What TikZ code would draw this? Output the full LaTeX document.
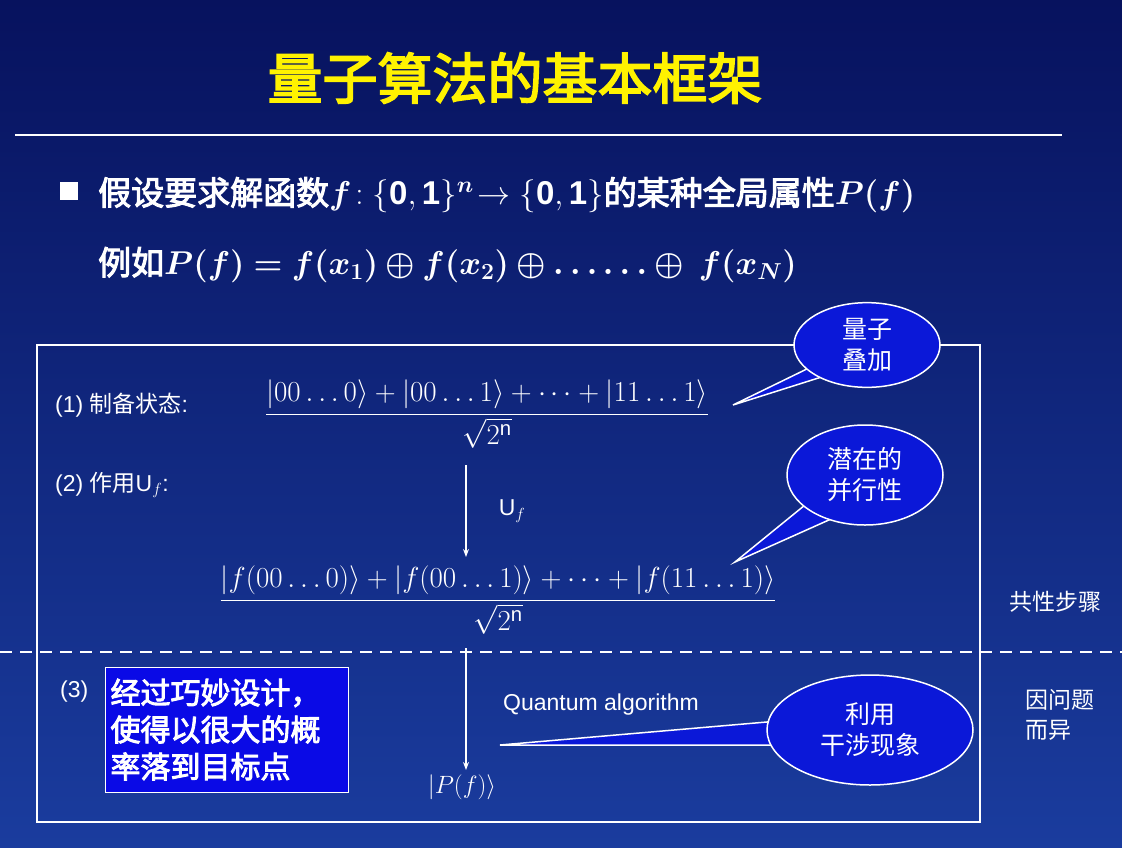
\RequirePackage{fix-cm}
\documentclass[tikz,border=0pt]{standalone}
\usepackage{amsmath}
\usepackage{bm}
\usepackage{fontspec}
\setmainfont{Liberation Sans}
\newfontfamily\cjk[AutoFakeBold=3]{Noto Sans CJK SC}
\usetikzlibrary{shapes.geometric,arrows.meta}
\definecolor{navytop}{HTML}{07125E}
\definecolor{navybot}{HTML}{1A3C9E}
\definecolor{boxblue}{HTML}{0A0AE6}
\definecolor{calloutblue}{HTML}{0B18D8}
\begin{document}
\begin{tikzpicture}[x=1pt,y=-1pt,
  txt/.style={text=white,inner sep=0pt,font=\fontsize{23}{26}\selectfont},
  formula/.style={txt,font=\fontsize{29}{32}\selectfont},
  bubble/.style={ellipse,draw=white,line width=1.5pt,fill=calloutblue,text=white,
    align=center,font=\cjk\fontsize{25}{31}\selectfont},
  tail/.style={draw=white,line width=1.5pt,fill=calloutblue},
  flow/.style={-{Stealth[length=8pt]},white,line width=1.5pt}]
% background
\shade[top color=navytop,bottom color=navybot] (0,0) rectangle (1122,847);
\useasboundingbox (0,0) rectangle (1122,847);
% title
\node[text=yellow,font=\cjk\bfseries\fontsize{55}{60}\selectfont] (title) at (515,78) {量子算法的基本框架};
\draw[white,line width=2pt] (15,135) -- (1062,135);
% bullet lines
\fill[white] (60,182) rectangle (78,200);
\node[txt,anchor=west,font=\fontsize{33}{36}\selectfont] (goal) at (98,195)
  {\cjk\bfseries 假设要求解函数$\bm{f}\!:\{\mathbf{0,1}\}^{\bm{n}}\!\to\{\mathbf{0,1}\}$\cjk\bfseries 的某种全局属性$\bm{P(f)}$};
\node[txt,anchor=west,font=\fontsize{33}{36}\selectfont] (example) at (98,265)
  {\cjk\bfseries 例如$\bm{P(f)=f(x_1)\oplus f(x_2)\oplus \ldots\ldots \oplus\ f(x_N)}$};
% frame and divider
\draw[white,line width=2pt] (37,345) rectangle (980,822);
\draw[white,line width=2pt,dash pattern=on 12pt off 8pt] (0,652) -- (1122,652);
% step 1
\node[txt,anchor=west] (s1) at (55,405) {(1) {\cjk 制备状态}:};
\node[formula] (psi) at (487,414) {$\dfrac{|00\ldots0\rangle+|00\ldots1\rangle+\cdots+|11\ldots1\rangle}{\sqrt{2^{\mathrm{n}}}}$};
% step 2
\node[txt,anchor=west] (s2) at (55,485) {(2) {\cjk 作用}U$_f$:};
\node[formula] (fpsi) at (498,600) {$\dfrac{|f(00\ldots0)\rangle+|f(00\ldots1)\rangle+\cdots+|f(11\ldots1)\rangle}{\sqrt{2^{\mathrm{n}}}}$};
\draw[flow] (466,465) -- (466,557) node[midway,right=32pt,txt] (uf) {U$_f$};
% step 3
\node[txt,anchor=west] (s3) at (60,692) {(3)};
\node[draw=white,fill=boxblue,text=white,align=left,minimum width=243pt,minimum height=125pt,
  text width=232pt,font=\cjk\bfseries\fontsize{30}{37}\selectfont] (design) at (226.5,729.5) {经过巧妙设计，\\使得以很大的概\\率落到目标点};
\node[formula,font=\fontsize{25}{28}\selectfont] (pf) at (462,787) {$|P(f)\rangle$};
\coordinate (top3) at (466,648);
\draw[flow] (top3) -- (466,770);
\node[txt] (qa) at (601,705) {Quantum algorithm};
% callouts
\filldraw[tail] (815,365) -- (733,405) -- (850,368) -- cycle;
\node[bubble,minimum width=146pt,minimum height=84pt] (c1) at (867,345) {量子\\叠加};
\filldraw[tail] (805,505) -- (735,562) -- (840,515) -- cycle;
\node[bubble,minimum width=156pt,minimum height=100pt] (c2) at (865,475) {潜在的\\并行性};
\filldraw[tail] (790,720) -- (500,745) -- (800,745) -- cycle;
\node[bubble,minimum width=206pt,minimum height=110pt] (c3) at (870,730) {利用\\干涉现象};
% side notes
\node[txt,font=\cjk\fontsize{23}{30}\selectfont] (common) at (1055,602) {共性步骤};
\node[txt,align=left,font=\cjk\fontsize{23}{30}\selectfont] (specific) at (1060,715) {因问题\\而异};
\end{tikzpicture}
\end{document}
